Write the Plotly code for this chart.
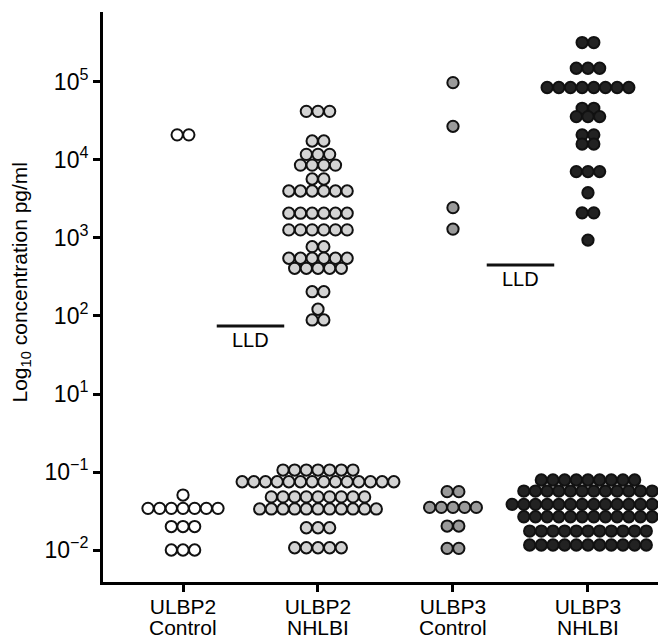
import math
import plotly.graph_objects as go

# ---------------- data ----------------
cat_line1 = ["ULBP2", "ULBP2", "ULBP3", "ULBP3"]
cat_line2 = ["Control", "NHLBI", "Control", "NHLBI"]

# distinct concentration levels (pg/ml) and number of samples at each level
ulbp2_ctrl_levels = [2.1e4, 0.0507, 0.0342, 0.0200, 0.0100]
ulbp2_ctrl_counts = [2, 1, 7, 3, 3]

ulbp2_nhlbi_levels = [4.2e4, 1.75e4, 1.18e4, 8.6e3, 5.7e3, 4.0e3, 2.08e3, 1.27e3,
                      774, 550, 409, 205, 122, 89,
                      0.106, 0.075, 0.048, 0.0336, 0.0193, 0.0107]
ulbp2_nhlbi_counts = [3, 2, 3, 4, 2, 6, 6, 6, 2, 6, 5, 2, 1, 2,
                      7, 14, 9, 11, 3, 5]

ulbp3_ctrl_levels = [9.8e4, 2.7e4, 2.45e3, 1.3e3, 0.056, 0.0352, 0.0203, 0.0105]
ulbp3_ctrl_counts = [1, 1, 1, 1, 2, 5, 2, 2]

ulbp3_nhlbi_levels = [3.2e5, 1.5e5, 8.5e4, 4.6e4, 3.6e4, 2.1e4, 1.6e4, 7.1e3, 3.8e3,
                      2.1e3, 940,
                      0.079, 0.057, 0.0385, 0.0267, 0.0175, 0.0116]
ulbp3_nhlbi_counts = [2, 3, 8, 2, 3, 2, 2, 3, 1, 2, 1,
                      9, 12, 14, 12, 11, 11]

lld_values = [74.5, 451]          # lower limit of detection, pg/ml
lld_label = "LLD"

low_tick_vals = [0.01, 0.1]
low_tick_text = ["10<sup>\u22122</sup>", "10<sup>\u22121</sup>"]
high_tick_vals = [10, 100, 1e3, 1e4, 1e5]
high_tick_text = ["10<sup>1</sup>", "10<sup>2</sup>", "10<sup>3</sup>",
                  "10<sup>4</sup>", "10<sup>5</sup>"]

# ---------------- styling ----------------
FONT = "Liberation Sans, Arial, sans-serif"
STEP = 0.0864          # horizontal spacing between adjacent dots (category units)
MSIZE = 11.3
fills = ["#ffffff", "#d3d3d3", "#9a9a9a", "#222222"]
groups = [
    (ulbp2_ctrl_levels, ulbp2_ctrl_counts),
    (ulbp2_nhlbi_levels, ulbp2_nhlbi_counts),
    (ulbp3_ctrl_levels, ulbp3_ctrl_counts),
    (ulbp3_nhlbi_levels, ulbp3_nhlbi_counts),
]

# axis geometry: broken log axis (10^0 omitted)
LOW_RANGE = [-2.41, -0.5]
HIGH_RANGE = [0.5, 5.897]
span = (LOW_RANGE[1] - LOW_RANGE[0]) + (HIGH_RANGE[1] - HIGH_RANGE[0])
d_low = (LOW_RANGE[1] - LOW_RANGE[0]) / span


def swarm(levels, counts, center):
    xs, ys = [], []
    for v, n in zip(levels, counts):
        for i in range(n):
            xs.append(center + (i - (n - 1) / 2) * STEP)
            ys.append(v)
    return xs, ys


fig = go.Figure()

for gi, (levels, counts) in enumerate(groups):
    xs, ys = swarm(levels, counts, gi)
    for upper in (False, True):
        px = [x for x, y in zip(xs, ys) if (y >= 1) == upper]
        py = [y for y in ys if (y >= 1) == upper]
        if not px:
            continue
        fig.add_trace(go.Scatter(
            x=px, y=py, mode="markers",
            yaxis="y2" if upper else "y",
            cliponaxis=False,
            marker=dict(size=MSIZE, color=fills[gi],
                        line=dict(color="#111111", width=2)),
            hoverinfo="x+y", showlegend=False))

# LLD lines + labels (between the paired categories)
for k, v in enumerate(lld_values):
    c = 2 * k + 0.5
    fig.add_trace(go.Scatter(
        x=[c - 0.25, c + 0.25], y=[v, v], mode="lines", yaxis="y2",
        line=dict(color="#111111", width=3), cliponaxis=False,
        hoverinfo="skip", showlegend=False))
    fig.add_annotation(x=c, y=math.log10(v), xref="x", yref="y2",
                       text=lld_label, showarrow=False, yanchor="top",
                       yshift=-1, font=dict(family=FONT, size=20, color="black"))

axis_common = dict(showline=True, linewidth=3, linecolor="black",
                   ticks="outside", ticklen=7, tickwidth=3, tickcolor="black",
                   showgrid=False, zeroline=False, automargin=False)

# page body has an 8px margin -> figure sized to fill the 666x638 window
fig.update_layout(
    width=658, height=630,
    margin=dict(l=95, r=0, t=4, b=56),
    plot_bgcolor="white", paper_bgcolor="white",
    showlegend=False,
    font=dict(family=FONT, size=20, color="black"),
    xaxis=dict(range=[-0.5926, 3.578], tickvals=[0, 1, 2, 3], ticktext=cat_line1,
               anchor="y", domain=[0, 1], ticklabelstandoff=-3,
               tickfont=dict(family=FONT, size=21, color="black"), **axis_common),
    yaxis=dict(type="log", domain=[0, d_low], range=LOW_RANGE,
               tickvals=low_tick_vals, ticktext=low_tick_text, anchor="x",
               tickfont=dict(family=FONT, size=23, color="black"), **axis_common),
    yaxis2=dict(type="log", domain=[d_low, 1], range=HIGH_RANGE,
                tickvals=high_tick_vals, ticktext=high_tick_text, anchor="x",
                tickfont=dict(family=FONT, size=23, color="black"), **axis_common),
)

# second line of the category labels
for i, t in enumerate(cat_line2):
    fig.add_annotation(x=i, y=0, xref="x", yref="paper", text=t, showarrow=False,
                       yanchor="top", yshift=-32,
                       font=dict(family=FONT, size=21, color="black"))

fig.add_annotation(
    text="Log<sub>10</sub> concentration pg/ml", textangle=-90,
    xref="paper", yref="paper", x=(20.5 - 103) / 563, y=(582 - 282) / 570,
    xanchor="center", yanchor="middle", showarrow=False,
    font=dict(family=FONT, size=21, color="black"))

fig.write_html("out.html")
